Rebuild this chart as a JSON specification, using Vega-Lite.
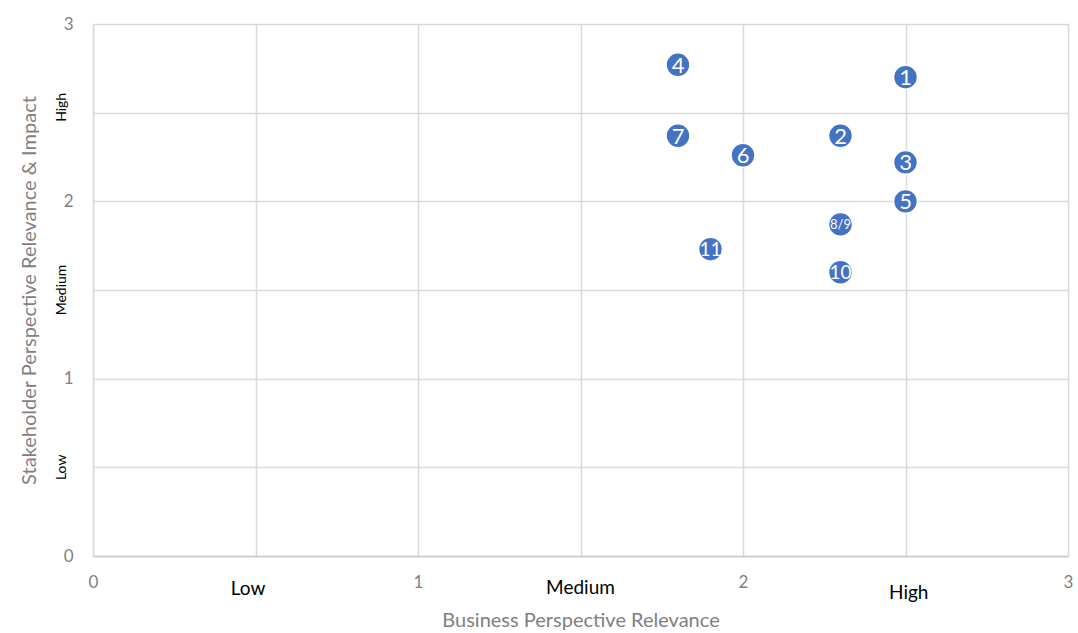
{
  "$schema": "https://vega.github.io/schema/vega-lite/v6.json",
  "width": 975,
  "height": 532,
  "autosize": {"type": "none"},
  "padding": {"left": 93, "top": 24, "right": 10, "bottom": 77},
  "background": "white",
  "config": {
    "font": "Lato",
    "view": {"stroke": null}
  },
  "datasets": {
    "points": [
      {"id": "1", "business": 2.5, "stakeholder": 2.7},
      {"id": "2", "business": 2.3, "stakeholder": 2.37},
      {"id": "3", "business": 2.5, "stakeholder": 2.22},
      {"id": "4", "business": 1.8, "stakeholder": 2.77},
      {"id": "5", "business": 2.5, "stakeholder": 2.0},
      {"id": "6", "business": 2.0, "stakeholder": 2.26},
      {"id": "7", "business": 1.8, "stakeholder": 2.37},
      {"id": "8/9", "business": 2.3, "stakeholder": 1.87},
      {"id": "10", "business": 2.3, "stakeholder": 1.6},
      {"id": "11", "business": 1.9, "stakeholder": 1.73}
    ],
    "xcats": [
      {"label": "Low", "business": 0.477, "stakeholder": -0.185},
      {"label": "Medium", "business": 1.5, "stakeholder": -0.18},
      {"label": "High", "business": 2.51, "stakeholder": -0.21}
    ],
    "ycats": [
      {"label": "High", "business": -0.095, "stakeholder": 2.53},
      {"label": "Medium", "business": -0.095, "stakeholder": 1.5},
      {"label": "Low", "business": -0.095, "stakeholder": 0.5}
    ]
  },
  "layer": [
    {
      "data": {"name": "points"},
      "mark": {"type": "circle", "size": 570, "color": "#4472C4", "opacity": 1, "stroke": "white", "strokeWidth": 1.5},
      "encoding": {
        "x": {
          "field": "business", "type": "quantitative",
          "scale": {"domain": [0, 3], "nice": false, "zero": true},
          "axis": {
            "title": "Business Perspective Relevance",
            "values": [0, 0.5, 1, 1.5, 2, 2.5, 3],
            "labelExpr": "datum.value % 1 === 0 ? format(datum.value, 'd') : ''",
            "grid": true, "gridColor": "#d9d9d9", "gridWidth": 1.5,
            "ticks": false, "domain": true, "domainColor": "#c8c8c8", "domainWidth": 1.5,
            "labelColor": "#7f7f7f", "labelFontSize": 17, "labelPadding": 18,
            "labelFlush": false,
            "titleColor": "#7f7f7f", "titleFontSize": 20, "titleFontWeight": "normal", "titlePadding": 20
          }
        },
        "y": {
          "field": "stakeholder", "type": "quantitative",
          "scale": {"domain": [0, 3], "nice": false, "zero": true},
          "axis": {
            "title": "Stakeholder Perspective Relevance & Impact",
            "values": [0, 0.5, 1, 1.5, 2, 2.5, 3],
            "labelExpr": "datum.value % 1 === 0 ? format(datum.value, 'd') : ''",
            "grid": true, "gridColor": "#d9d9d9", "gridWidth": 1.5,
            "ticks": false, "domain": true, "domainColor": "#d9d9d9", "domainWidth": 1.5,
            "labelColor": "#7f7f7f", "labelFontSize": 17, "labelPadding": 20,
            "labelFlush": false,
            "titleColor": "#7f7f7f", "titleFontSize": 20, "titleFontWeight": "normal", "titlePadding": 24
          }
        }
      }
    },
    {
      "data": {"name": "points"},
      "mark": {"type": "text", "color": "white", "fontSize": 22, "baseline": "middle", "align": "center", "dy": 1},
      "transform": [{"filter": "length(datum.id) === 1"}],
      "encoding": {
        "x": {"field": "business", "type": "quantitative"},
        "y": {"field": "stakeholder", "type": "quantitative"},
        "text": {"field": "id"}
      }
    },
    {
      "data": {"name": "points"},
      "mark": {"type": "text", "color": "white", "fontSize": 19, "baseline": "middle", "align": "center", "dy": 1},
      "transform": [{"filter": "length(datum.id) === 2"}],
      "encoding": {
        "x": {"field": "business", "type": "quantitative"},
        "y": {"field": "stakeholder", "type": "quantitative"},
        "text": {"field": "id"}
      }
    },
    {
      "data": {"name": "points"},
      "mark": {"type": "text", "color": "white", "fontSize": 13, "baseline": "middle", "align": "center", "dy": 1},
      "transform": [{"filter": "datum.id === '8/9'"}],
      "encoding": {
        "x": {"field": "business", "type": "quantitative"},
        "y": {"field": "stakeholder", "type": "quantitative"},
        "text": {"field": "id"}
      }
    },
    {
      "data": {"name": "xcats"},
      "mark": {"type": "text", "color": "black", "fontSize": 19, "baseline": "middle", "align": "center", "clip": false},
      "encoding": {
        "x": {"field": "business", "type": "quantitative"},
        "y": {"field": "stakeholder", "type": "quantitative"},
        "text": {"field": "label"}
      }
    },
    {
      "data": {"name": "ycats"},
      "mark": {"type": "text", "color": "black", "fontSize": 14, "baseline": "middle", "align": "center", "angle": 270, "clip": false},
      "encoding": {
        "x": {"field": "business", "type": "quantitative"},
        "y": {"field": "stakeholder", "type": "quantitative"},
        "text": {"field": "label"}
      }
    }
  ]
}
